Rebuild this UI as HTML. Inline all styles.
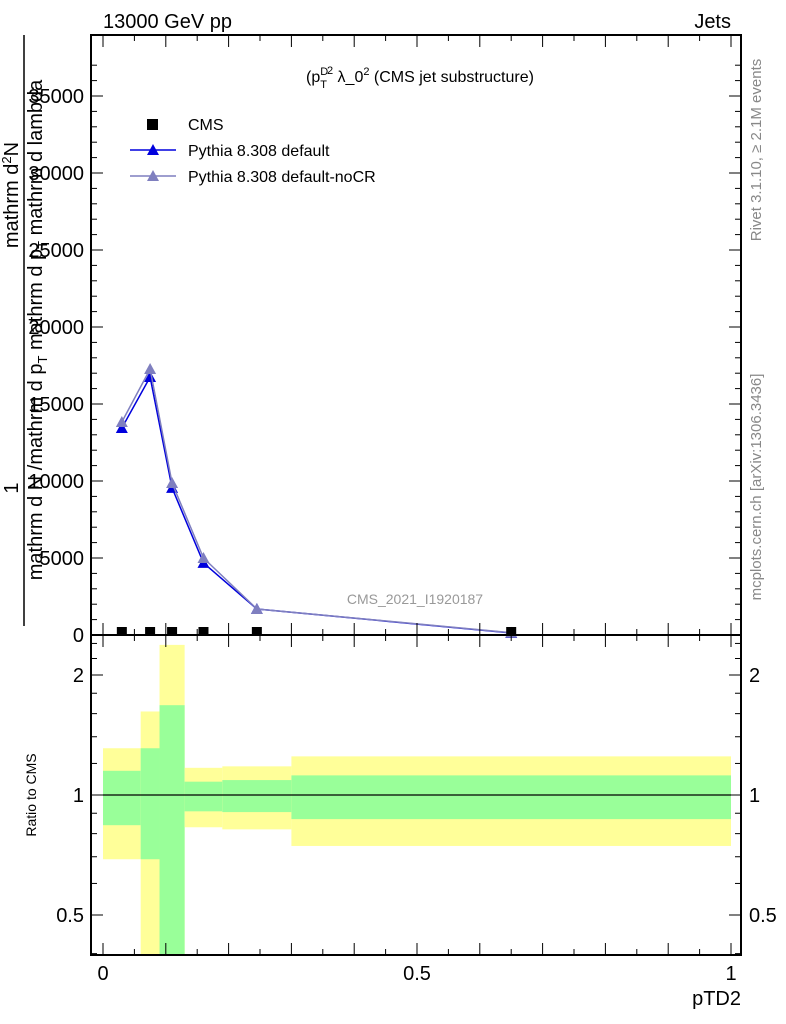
<!DOCTYPE html>
<html><head><meta charset="utf-8"><style>
body{margin:0;background:#fff}
svg{display:block;font-family:"Liberation Sans",sans-serif}
</style></head><body>
<svg id="c" width="786" height="1024" viewBox="0 0 786 1024">
<g id="bands"></g>
<g id="main"></g>
<rect x="91" y="35" width="650" height="600" fill="none" stroke="#000" stroke-width="2"/>
<rect x="91" y="635" width="650" height="320" fill="none" stroke="#000" stroke-width="2"/>
<g id="axes"></g>
<text x="103" y="28" font-size="20">13000 GeV pp</text>
<text x="731" y="28" font-size="20" text-anchor="end">Jets</text>
<text x="420" y="82" font-size="16" text-anchor="middle">(p<tspan font-size="11" dy="-7">D</tspan><tspan font-size="11" dx="-8" dy="13">T</tspan><tspan font-size="11" dy="-14">2</tspan><tspan dy="8"> λ_0</tspan><tspan font-size="11" dy="-7">2</tspan><tspan dy="7"> (CMS jet substructure)</tspan></text>
<g>
<rect x="147" y="119" width="11" height="11" fill="#000"/>
<text x="188" y="130" font-size="16">CMS</text>
<line x1="130" y1="150" x2="176" y2="150" stroke="#0000dd" stroke-width="1.5"/>
<polygon points="147,155 159,155 153,144" fill="#0000dd"/>
<text x="188" y="156" font-size="16">Pythia 8.308 default</text>
<line x1="130" y1="176" x2="176" y2="176" stroke="#7f7fbf" stroke-width="1.5"/>
<polygon points="147,181 159,181 153,170" fill="#7f7fbf"/>
<text x="188" y="182" font-size="16">Pythia 8.308 default-noCR</text>
</g>
<text x="415" y="604" font-size="14" fill="#999" text-anchor="middle">CMS_2021_I1920187</text>
<text transform="translate(761,150) rotate(-90)" font-size="15" fill="#888" text-anchor="middle">Rivet 3.1.10, ≥ 2.1M events</text>
<text transform="translate(761,487) rotate(-90)" font-size="15" fill="#888" text-anchor="middle">mcplots.cern.ch [arXiv:1306.3436]</text>
<g font-size="20">
<text transform="translate(18,488) rotate(-90)" text-anchor="middle">1</text>
<line x1="24" y1="35" x2="24" y2="626" stroke="#000" stroke-width="1.5"/>
<text transform="translate(42,330) rotate(-90)" text-anchor="middle">mathrm d N /mathrm d p<tspan font-size="13" dy="5">T</tspan><tspan dy="-5"> mathrm d p</tspan><tspan font-size="13" dy="5">T</tspan><tspan dy="-5"> mathrm d lambda</tspan></text>
<text transform="translate(18,195) rotate(-90)" text-anchor="middle">mathrm d<tspan font-size="13" dy="-7">2</tspan><tspan dy="7">N</tspan></text>
</g>
<text transform="translate(36,795) rotate(-90)" font-size="14" text-anchor="middle">Ratio to CMS</text>
<text x="741" y="1005" font-size="20" text-anchor="end">pTD2</text>
</svg>
<script>
const binEdges=[0,0.06,0.09,0.13,0.19,0.3,1.0];
const binCenters=[0.03,0.075,0.11,0.16,0.245,0.65];
const cmsValues=[60,60,60,60,60,60];
const pythiaDefault=[13440,16750,9550,4680,1690,130];
const pythiaNoCR=[13830,17270,9870,5000,1690,150];
const yellowHi=[1.31,1.62,2.38,1.17,1.18,1.25];
const yellowLo=[0.69,0.3,0.3,0.83,0.82,0.745];
const greenHi=[1.15,1.31,1.68,1.08,1.09,1.12];
const greenLo=[0.84,0.69,0.3,0.91,0.906,0.87];
const yTicks=[0,5000,10000,15000,20000,25000,30000,35000];
const rTicks=[0.5,1,2];
const xTicks=[0,0.5,1];
const NS="http://www.w3.org/2000/svg";
const X=v=>103+v*628;
const Y=v=>635-v*77/5000;
const R=v=>Math.min(955,Math.max(635,795-Math.log2(v)*120));
function mk(t,a,p){const e=document.createElementNS(NS,t);for(const k in a)e.setAttribute(k,a[k]);p.appendChild(e);return e;}
const bands=document.getElementById('bands'),main=document.getElementById('main'),axes=document.getElementById('axes');
for(let i=0;i<binCenters.length;i++){
 const x0=X(binEdges[i]),x1=X(binEdges[i+1]);
 const y=mk('rect',{x:x0,y:R(yellowHi[i]),width:x1-x0,height:R(yellowLo[i])-R(yellowHi[i]),fill:'#ffff99'},bands);
 
 
 const g=mk('rect',{x:x0,y:R(greenHi[i]),width:x1-x0,height:R(greenLo[i])-R(greenHi[i]),fill:'#99ff99'},bands);
 
 
}
const one=mk('line',{x1:X(0),x2:X(1),y1:R(1),y2:R(1),stroke:'#000','stroke-width':1.2},bands);


function series(vals,col,name){
 const pl=mk('polyline',{points:vals.map((v,i)=>X(binCenters[i])+','+Y(v)).join(' '),fill:'none',stroke:col,'stroke-width':1.5},main);
 
 
 vals.forEach((v,i)=>{const x=X(binCenters[i]),y=Y(v);
  const p=mk('polygon',{points:`${x-6},${y+5} ${x+6},${y+5} ${x},${y-6}`,fill:col},main);
  
  });
}
series(pythiaDefault,'#0000dd','pythia-default');
series(pythiaNoCR,'#7f7fbf','pythia-nocr');
cmsValues.forEach((v,i)=>{const x=X(binCenters[i]);
 const r=mk('rect',{x:x-5,y:Math.min(Y(v),630)-3,width:10,height:7,fill:'#000'},main);
 
 });
for(let v=0;v<=37500;v+=1000){const y=Y(v);if(y<36)break;const maj=v%5000==0;
 mk('line',{x1:91,x2:91+(maj?12:6),y1:y,y2:y,stroke:'#000'},axes);mk('line',{x1:741,x2:741-(maj?12:6),y1:y,y2:y,stroke:'#000'},axes);}
yTicks.forEach(v=>{const t=mk('text',{x:84,y:Y(v)+7,'font-size':20,'text-anchor':'end'},axes);t.textContent=v;
 
 });
for(let i=0;i<=20;i++){const v=i*0.05,x=X(v),maj=i%2==0;
 [[635,-1],[955,-1],[35,1],[635,1]].forEach(([y,d])=>mk('line',{x1:x,x2:x,y1:y,y2:y+d*(maj?12:6),stroke:'#000'},axes));}
xTicks.forEach(v=>{const t=mk('text',{x:X(v),y:980,'font-size':20,'text-anchor':'middle'},axes);t.textContent=v;
 
 });
[0.4,0.5,0.6,0.7,0.8,0.9,1,1.2,1.4,1.6,1.8,2,2.2,2.4].forEach(v=>{const y=R(v);if(y<=636||y>=954)return;const maj=v==0.5||v==1||v==2;
 mk('line',{x1:91,x2:91+(maj?12:6),y1:y,y2:y,stroke:'#000'},axes);mk('line',{x1:741,x2:741-(maj?12:6),y1:y,y2:y,stroke:'#000'},axes);});
rTicks.forEach(v=>{[[84,'end'],[749,'start']].forEach(([x,a])=>{const t=mk('text',{x:x,y:R(v)+7,'font-size':20,'text-anchor':a},axes);t.textContent=v;
 
 });});
</script>
</body></html>
